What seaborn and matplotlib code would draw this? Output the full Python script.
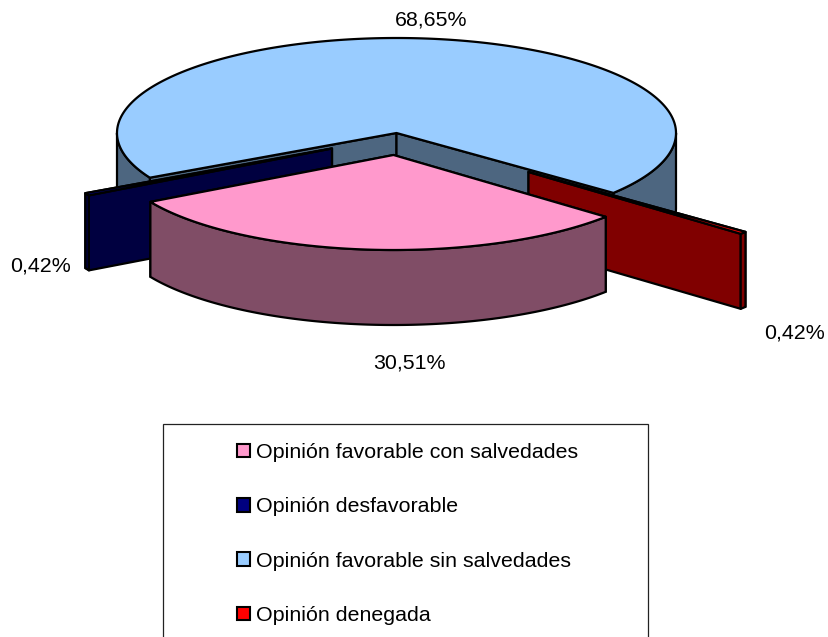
import numpy as np
import matplotlib
matplotlib.use("Agg")
import matplotlib.pyplot as plt
from matplotlib.patches import Polygon, Patch, Rectangle
import seaborn as sns

categories = ["Opinión favorable con salvedades", "Opinión desfavorable",
              "Opinión favorable sin salvedades", "Opinión denegada"]
shares = [30.51, 0.42, 68.65, 0.42]
labels = ["30,51%", "0,42%", "68,65%", "0,42%"]

top_colors = sns.color_palette(["#FF99CC", "#000080", "#99CCFF", "#FF0000"])

sns.set_theme(style="white")
plt.rcParams["font.family"] = ["Liberation Sans", "DejaVu Sans"]

W, H = 829, 637
fig = plt.figure(figsize=(W / 100, H / 100), dpi=100, facecolor="white")
ax = fig.add_axes([0, 0, 1, 1])
ax.set_xlim(0, W)
ax.set_ylim(H, 0)
ax.axis("off")

CX, CY, RX, RY, DEPTH = 396.5, 133, 279.5, 95, 75
START = 40.6
LW = 1.6
offsets = [(-3, 22), (-64.5, 15.5), (0, 0), (132, 39)]
draw_order = [2, 1, 3, 0]
label_pos = [(409, 363), (41, 266), (431, 19.5), (794.5, 333)]


def rim(t, ox, oy):
    a = np.radians(t)
    return np.column_stack([CX + ox + RX * np.cos(a), CY + oy + RY * np.sin(a)])


def face(points, color, z):
    ax.add_patch(Polygon(points, closed=True, facecolor=color, edgecolor="black",
                         linewidth=LW, joinstyle="round", zorder=z))


edges = START + np.concatenate([[0], np.cumsum(shares)]) * 360 / sum(shares)
z = 1
for i in draw_order:
    t0, t1 = edges[i], edges[i + 1]
    ox, oy = offsets[i]
    apex = np.array([[CX + ox, CY + oy]])
    drop = np.array([0, DEPTH])
    top = np.array(top_colors[i])
    wall = tuple(top * 0.5)

    # cut faces, back one first
    for t in sorted((t0, t1), key=lambda v: np.sin(np.radians(v))):
        p = rim(t, ox, oy)
        face(np.vstack([apex, p, p + drop, apex + drop]), wall, z)
        z += 1
    # outer wall, front half of the rim only
    for k in (0, 360):
        a, b = max(t0, k), min(t1, k + 180)
        if b > a:
            arc = rim(np.linspace(a, b, 200), ox, oy)
            face(np.vstack([arc, arc[::-1] + drop]), wall, z)
            z += 1
    # top surface
    arc = rim(np.linspace(t0, t1, 600), ox, oy)
    face(np.vstack([apex, arc]), tuple(top), z)
    z += 1

FS = 15.4
for text, (x, y) in zip(labels, label_pos):
    ax.text(x, y, text, ha="center", va="center", fontsize=FS, color="black", zorder=50)

# legend frame runs past the bottom of the picture
ax.add_patch(Rectangle((163, 423.5), 485, 260, facecolor="white", edgecolor="#222222",
                       linewidth=0.9, zorder=40))
handles = [Patch(facecolor=c, edgecolor="black", linewidth=1.5, label=n)
           for c, n in zip(top_colors, categories)]
ax.legend(handles=handles, loc="upper left", bbox_to_anchor=(237 / W, 1 - 443 / H),
          frameon=False, fontsize=FS, borderpad=0, borderaxespad=0,
          handlelength=0.6, handleheight=0.6, handletextpad=0.3,
          labelspacing=1.65, labelcolor="black").set_zorder(60)

fig.savefig("out.png", dpi=100)
